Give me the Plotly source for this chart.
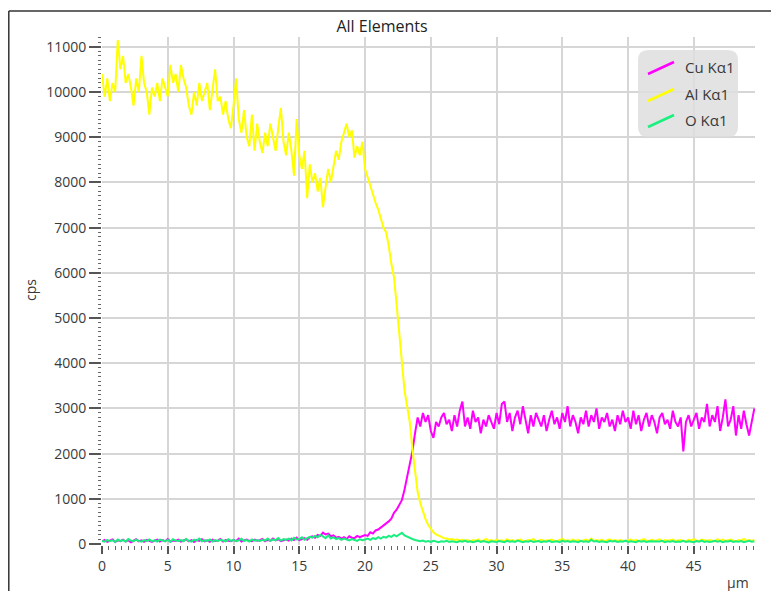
import plotly.graph_objects as go

# ---------------- data (sampled every 0.2 um) ----------------
step_um = 0.2
series_names = ["Cu Kα1", "Al Kα1", "O Kα1"]
series_colors = ["#ff00ff", "#ffff00", "#1aef80"]

cu_cps = [
    60, 90, 50, 75, 100, 45, 80, 65, 95, 55,
    85, 40, 70, 105, 60, 80, 50, 90, 70, 45,
    75, 95, 55, 85, 60, 110, 50, 80, 70, 95,
    55, 75, 100, 60, 85, 45, 90, 70, 105, 60,
    80, 50, 95, 65, 75, 110, 55, 85, 70, 60,
    90, 65, 120, 55, 80, 100, 70, 60, 95, 75,
    85, 110, 60, 95, 70, 120, 80, 105, 65, 90,
    100, 75, 120, 90, 140, 85, 110, 130, 95, 150,
    170, 140, 200, 180, 250, 210, 230, 170, 190, 140,
    160, 120, 150, 110, 170, 140, 130, 180, 150, 170,
    200, 180, 260, 230, 300, 320, 360, 400, 460, 500,
    560, 690, 760, 880, 970, 1200, 1480, 1790, 2050, 2450,
    2800, 2600, 2900, 2700, 2850, 2500, 2350, 2700, 2600, 2800,
    2900, 2650, 2750, 2500, 2850, 2600, 2950, 3150, 2600, 2800,
    2550, 2950, 2700, 2800, 2450, 2750, 2600, 2850, 2700, 2550,
    2900, 2650, 3100, 3150, 2700, 2900, 2500, 2800, 2950, 2650,
    3050, 2700, 2450, 2850, 2600, 2900, 2750, 2600, 2850, 2500,
    2750, 2950, 2650, 2800, 2550, 2900, 2700, 3050, 2600, 2850,
    2700, 2450, 2800, 2650, 2950, 2600, 2850, 2700, 3000, 2550,
    2800, 2700, 2900, 2600, 2750, 2500, 2850, 2650, 2950, 2700,
    2800, 2550, 2950, 2650, 2850, 2500, 2750, 2900, 2600, 2850,
    2700, 2450, 2800, 2900, 2650, 2750, 2550, 2950, 2700, 2600,
    2800, 2050, 2700, 2850, 2600, 2750, 2900, 2550, 2800, 2700,
    3100, 2600, 2850, 2700, 3050, 2500, 2800, 3200, 2600, 2750,
    3050, 2400, 2850, 2550, 2950, 2650, 2400, 2700, 3000,
]

al_cps = [
    10400, 9900, 10300, 9800, 10200, 10000, 11150, 10500, 10800, 10200,
    10400, 10100, 9700, 10300, 10000, 10800, 10200, 10000, 9500, 10100,
    9900, 10200, 9800, 10300, 10100, 9900, 10600, 10200, 10400, 10000,
    10600, 10300, 10100, 9700, 9500, 10000, 9700, 10200, 9800, 10000,
    10200, 9600, 10000, 10500, 9800, 9900, 9500, 9800, 9400, 9200,
    9700, 10300, 9400, 9100, 9600, 9000, 8800, 9500, 8700, 9300,
    8900, 8650, 9100, 8800, 9300, 9000, 8700, 9200, 9650, 8900,
    8600, 9100, 8700, 8150, 9400, 8600, 8300, 8700, 7650, 8400,
    8000, 8200, 7800, 8100, 7450, 7900, 8300, 8000, 8400, 8700,
    8500, 8900, 9100, 9300, 9000, 9150, 8550, 8800, 8600, 8900,
    8300, 8100, 7900, 7700, 7550, 7400, 7200, 7000, 6900, 6600,
    6200, 5900, 5300, 4700, 4000, 3400, 3050, 2700, 2100, 1600,
    1150, 900, 700, 550, 420, 330, 260, 210, 180, 150,
    130, 120, 100, 110, 90, 100, 80, 95, 70, 85,
    60, 90, 75, 100, 65, 80, 110, 70, 85, 60,
    95, 70, 80, 60, 105, 75, 90, 65, 85, 100,
    70, 60, 90, 80, 110, 65, 75, 95, 60, 85,
    80, 100, 70, 60, 90, 115, 75, 85, 65, 95,
    70, 90, 60, 80, 100, 75, 120, 65, 85, 70,
    95, 60, 80, 105, 70, 85, 65, 90, 75, 60,
    85, 100, 70, 90, 60, 80, 110, 75, 65, 95,
    70, 85, 105, 60, 90, 75, 80, 100, 65, 85,
    90, 70, 60, 95, 80, 110, 75, 65, 100, 85,
    70, 90, 80, 60, 105, 75, 95, 65, 85, 100,
    75, 60, 90, 80, 110, 70, 85, 65, 95,
]

o_cps = [
    70, 50, 90, 60, 80, 45, 100, 65, 85, 55,
    110, 75, 60, 95, 70, 50, 85, 65, 100, 60,
    80, 55, 95, 70, 60, 90, 50, 105, 75, 65,
    85, 60, 110, 70, 50, 95, 75, 120, 60, 80,
    70, 100, 55, 85, 65, 95, 75, 60, 105, 70,
    90, 60, 80, 115, 65, 85, 55, 100, 75, 90,
    65, 95, 75, 120, 70, 100, 85, 130, 75, 110,
    90, 120, 80, 140, 100, 110, 150, 95, 130, 160,
    140, 180, 150, 200, 170, 130, 190, 120, 150, 110,
    130, 90, 120, 100, 80, 110, 95, 70, 105, 85,
    100, 120, 90, 130, 110, 150, 120, 160, 140, 180,
    160, 200, 170, 220, 250, 190, 160, 130, 110, 90,
    80, 60, 75, 50, 65, 45, 70, 55, 40, 60,
    50, 70, 45, 60, 55, 40, 65, 50, 75, 45,
    60, 40, 55, 70, 45, 65, 50, 35, 60, 50,
    45, 65, 55, 40, 70, 50, 60, 45, 75, 55,
    40, 60, 50, 70, 45, 55, 65, 40, 60, 50,
    70, 45, 55, 60, 40, 75, 50, 65, 45, 60,
    55, 40, 70, 50, 60, 45, 95, 55, 65, 45,
    60, 50, 40, 70, 55, 65, 45, 60, 50, 75,
    45, 60, 55, 40, 70, 50, 65, 45, 60, 55,
    65, 45, 55, 70, 40, 60, 50, 65, 45, 55,
    50, 70, 45, 60, 55, 40, 65, 50, 75, 45,
    60, 45, 55, 70, 50, 65, 40, 60, 55, 70,
    45, 60, 50, 65, 40, 55, 70, 50, 60,
]

x_um = [round(step_um * i, 1) for i in range(len(al_cps))]
x_ticks = [0, 5, 10, 15, 20, 25, 30, 35, 40, 45]
y_ticks = [0, 1000, 2000, 3000, 4000, 5000, 6000, 7000, 8000, 9000, 10000, 11000]

# ---------------- figure ----------------
# page has an 8px body margin: figure occupies page pixels 8..779 / 8..591
OFF = 8
W, H = 779 - OFF, 591 - OFF
PL, PR, PT, PB = 102, 755, 37, 545          # plot area in page pixels
L, R, T, B = PL - OFF, W - (PR - OFF), PT - OFF, H - (PB - OFF)
PW, PH = W - L - R, H - T - B


def px(xp):
    return (xp - OFF - L) / PW


def py(yp):
    return (H - B - (yp - OFF)) / PH


FONT = "Open Sans"
TXT = "#3a3a3a"

fig = go.Figure()
for name, color, vals in zip(series_names, series_colors, [cu_cps, al_cps, o_cps]):
    fig.add_trace(go.Scatter(x=x_um, y=vals, mode="lines", name=name,
                             line=dict(color=color, width=2), showlegend=False))

grid = "#d6d6d6"
fig.update_layout(
    width=W, height=H,
    margin=dict(l=L, r=R, t=T, b=B),
    paper_bgcolor="white", plot_bgcolor="white",
    font=dict(family=FONT, size=14, color=TXT),
    title=dict(text="All Elements", x=(382 - OFF) / W, y=1 - (26 - OFF) / H,
               xanchor="center", yanchor="middle", xref="container", yref="container",
               font=dict(family=FONT, size=16, color="#222")),
    showlegend=False,
    xaxis=dict(range=[0, 49.65], tickvals=x_ticks, ticks="outside", ticklen=8,
               tickwidth=1.5, tickcolor="#555", showgrid=True, gridcolor=grid,
               gridwidth=1.5, zeroline=False, showline=False, automargin=False,
               tickfont=dict(size=14, color=TXT),
               minor=dict(dtick=0.5, ticks="outside", ticklen=4, tickcolor="#666",
                          tickwidth=1, showgrid=False)),
    yaxis=dict(range=[-22, 11217], tickvals=y_ticks, ticktext=[str(v) for v in y_ticks],
               ticks="outside", ticklen=12,
               tickwidth=1.5, tickcolor="#555", showgrid=True, gridcolor=grid,
               gridwidth=1.5, zeroline=False, showline=False, automargin=False,
               tickfont=dict(size=14, color=TXT),
               minor=dict(dtick=100, ticks="outside", ticklen=3, tickcolor="#666",
                          tickwidth=1, showgrid=False)),
)

shapes = []
# frame lines (top + left)
shapes.append(dict(type="line", xref="paper", yref="paper", x0=px(8.8), x1=px(779),
                   y0=py(11), y1=py(11), line=dict(color="#333", width=1.5)))
shapes.append(dict(type="line", xref="paper", yref="paper", x0=px(8.8), x1=px(8.8),
                   y0=py(11), y1=py(591), line=dict(color="#333", width=1.5)))

# legend box (rounded)
bx0, bx1, by0, by1, r = 638, 738, 50, 137, 10
path = (f"M {px(bx0 + r)} {py(by0)} L {px(bx1 - r)} {py(by0)} "
        f"Q {px(bx1)} {py(by0)} {px(bx1)} {py(by0 + r)} "
        f"L {px(bx1)} {py(by1 - r)} Q {px(bx1)} {py(by1)} {px(bx1 - r)} {py(by1)} "
        f"L {px(bx0 + r)} {py(by1)} Q {px(bx0)} {py(by1)} {px(bx0)} {py(by1 - r)} "
        f"L {px(bx0)} {py(by0 + r)} Q {px(bx0)} {py(by0)} {px(bx0 + r)} {py(by0)} Z")
shapes.append(dict(type="path", xref="paper", yref="paper", path=path,
                   fillcolor="rgba(222,222,222,0.85)", line=dict(width=0), layer="above"))

annotations = []
row_y = [67, 94, 120]
for name, color, ry in zip(series_names, series_colors, row_y):
    shapes.append(dict(type="line", xref="paper", yref="paper",
                       x0=px(648), y0=py(ry + 7), x1=px(674), y1=py(ry - 5),
                       line=dict(color=color, width=2.5), layer="above"))
    annotations.append(dict(text=name, xref="paper", yref="paper", x=px(683), y=py(ry),
                            xanchor="left", yanchor="middle", showarrow=False,
                            font=dict(family=FONT, size=15, color=TXT)))

annotations.append(dict(text="μm", xref="paper", yref="paper", x=px(738), y=py(582),
                        xanchor="center", yanchor="middle", showarrow=False,
                        font=dict(family=FONT, size=14, color=TXT)))
annotations.append(dict(text="cps", xref="paper", yref="paper", x=px(30), y=py(290),
                        xanchor="center", yanchor="middle", showarrow=False, textangle=-90,
                        font=dict(family=FONT, size=14, color=TXT)))

fig.update_layout(shapes=shapes, annotations=annotations)
fig.write_html("out.html")
